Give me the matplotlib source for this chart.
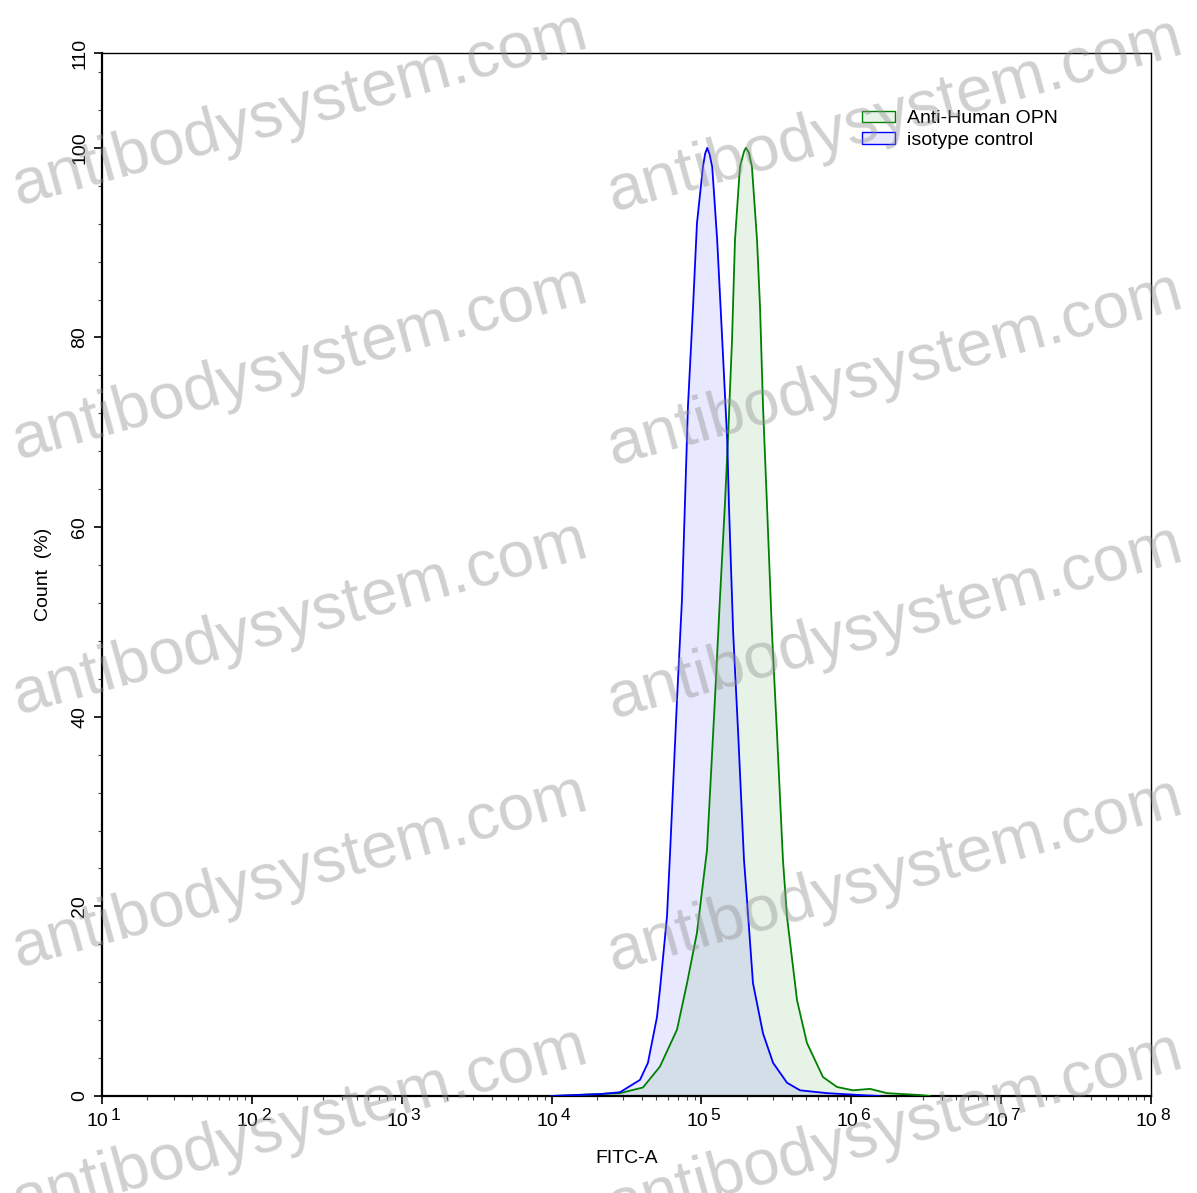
import matplotlib
matplotlib.use("Agg")
import matplotlib.pyplot as plt
from matplotlib.patches import Patch
from matplotlib.ticker import FixedLocator, NullFormatter
import numpy as np

plt.rcParams['font.family'] = ['Liberation Sans', 'DejaVu Sans']

# isotype control (blue): log10(FITC-A), count %
iso_log = [4.00, 4.156, 4.323, 4.457, 4.590, 4.643, 4.703, 4.723, 4.770, 4.790, 4.837,
           4.870, 4.890, 4.910, 4.944, 4.970, 5.010, 5.025, 5.039, 5.055, 5.072, 5.105,
           5.139, 5.172, 5.184, 5.212, 5.245, 5.284, 5.304, 5.344, 5.411, 5.478, 5.571,
           5.658, 5.838, 6.058, 6.19]
iso_pct = [0.0, 0.1, 0.2, 0.4, 1.7, 3.5, 8.3, 11.2, 18.9, 25.4, 41.8,
           52.3, 62.5, 72.7, 83.2, 92.0, 98.0, 99.4, 100.0, 99.3, 98.0, 90.3,
           79.7, 69.2, 62.1, 48.8, 38.3, 24.9, 20.7, 11.9, 6.6, 3.5, 1.4,
           0.6, 0.3, 0.1, 0.0]

# Anti-Human OPN (green)
opn_log = [4.00, 4.156, 4.457, 4.610, 4.723, 4.837, 4.904, 4.970, 5.037, 5.090, 5.123,
           5.157, 5.177, 5.204, 5.224, 5.257, 5.284, 5.297, 5.317, 5.337, 5.371, 5.391,
           5.411, 5.437, 5.471, 5.504, 5.544, 5.571, 5.638, 5.704, 5.811, 5.905, 6.011,
           6.125, 6.238, 6.458, 6.525]
opn_pct = [0.0, 0.1, 0.3, 0.9, 3.1, 7.0, 11.9, 17.2, 25.9, 41.8, 52.3,
           62.5, 69.2, 79.7, 90.3, 98.0, 99.6, 100.0, 99.5, 98.0, 90.3, 83.2,
           72.7, 62.5, 48.8, 38.3, 24.9, 18.9, 10.1, 5.6, 2.0, 0.95, 0.6,
           0.75, 0.3, 0.1, 0.0]

series_names = ["Anti-Human OPN", "isotype control"]
x_decades = [1, 2, 3, 4, 5, 6, 7, 8]
y_major = [0, 20, 40, 60, 80, 100, 110]
y_minor = list(range(0, 110, 4))

fig = plt.figure(figsize=(11.97, 11.93), dpi=100)
ax = fig.add_axes([102/1197, 1 - 1096/1193, (1151-102)/1197, (1096-53)/1193])

blue = '#0000ff'
green = '#008000'

iso_x = 10 ** np.array(iso_log)
opn_x = 10 ** np.array(opn_log)

ax.fill_between(iso_x, iso_pct, 0, color=blue, alpha=0.09, linewidth=0, zorder=1)
ax.fill_between(opn_x, opn_pct, 0, color=green, alpha=0.09, linewidth=0, zorder=2)
ax.plot(opn_x, opn_pct, color=green, lw=1.3, zorder=3)
ax.plot(iso_x, iso_pct, color=blue, lw=1.3, zorder=4)

ax.set_xscale('log')
ax.set_xlim(10 ** x_decades[0], 10 ** x_decades[-1])
ax.set_ylim(0, 110)

ax.set_xticks([10 ** k for k in x_decades])
ax.set_xticklabels([''] * len(x_decades))
minors = [m * 10 ** k for k in x_decades[:-1] for m in range(2, 10)]
ax.xaxis.set_minor_locator(FixedLocator(minors))
ax.xaxis.set_minor_formatter(NullFormatter())
for k in x_decades:
    ax.annotate('10', xy=(10 ** k, 0), xycoords=('data', 'axes fraction'),
                xytext=(-3, -12), textcoords='offset points', ha='center', va='top',
                fontsize=14, annotation_clip=False)
    ax.annotate(str(k), xy=(10 ** k, 0), xycoords=('data', 'axes fraction'),
                xytext=(10, -8.5), textcoords='offset points', ha='center', va='top',
                fontsize=12.5, annotation_clip=False)

ax.set_yticks(y_major)
ax.set_yticklabels([str(v) for v in y_major], fontsize=14, rotation=90, va='center')
ax.yaxis.set_minor_locator(FixedLocator(y_minor))

ax.tick_params(axis='both', which='major', direction='out', length=6, width=1.2, color='black', pad=4)
ax.tick_params(axis='both', which='minor', direction='out', length=3, width=0.8, color='#444444')

for s in ['left', 'bottom']:
    ax.spines[s].set_linewidth(1.6)
for s in ['top', 'right']:
    ax.spines[s].set_linewidth(1.0)

ax.set_xlabel('FITC-A', fontsize=14, labelpad=29)
ax.set_ylabel('Count  (%)', fontsize=14, labelpad=14)

handles = [Patch(facecolor='#e8f3e8', edgecolor=green, linewidth=1.0),
           Patch(facecolor='#e8e8fb', edgecolor=blue, linewidth=1.0)]
leg = ax.legend(handles, series_names, loc='upper left',
                bbox_to_anchor=(862/1197, 1 - 110/1193), bbox_transform=fig.transFigure,
                frameon=False, fontsize=14, handlelength=1.7, handleheight=0.5,
                labelspacing=0.25, handletextpad=0.6, borderpad=0.0, borderaxespad=0.0)

# watermark
wm_centers = [(300, 110), (300, 364), (300, 619), (300, 872), (300, 1125),
              (895, 116), (895, 370), (895, 623), (895, 876), (895, 1130)]
for cx, cy in wm_centers:
    fig.text(cx/1197, 1 - cy/1193, 'antibodysystem.com', fontsize=47, color='#909090',
             alpha=0.42, rotation=15.5, ha='center', va='center', rotation_mode='anchor',
             zorder=10)

fig.savefig('out.png', dpi=100)
